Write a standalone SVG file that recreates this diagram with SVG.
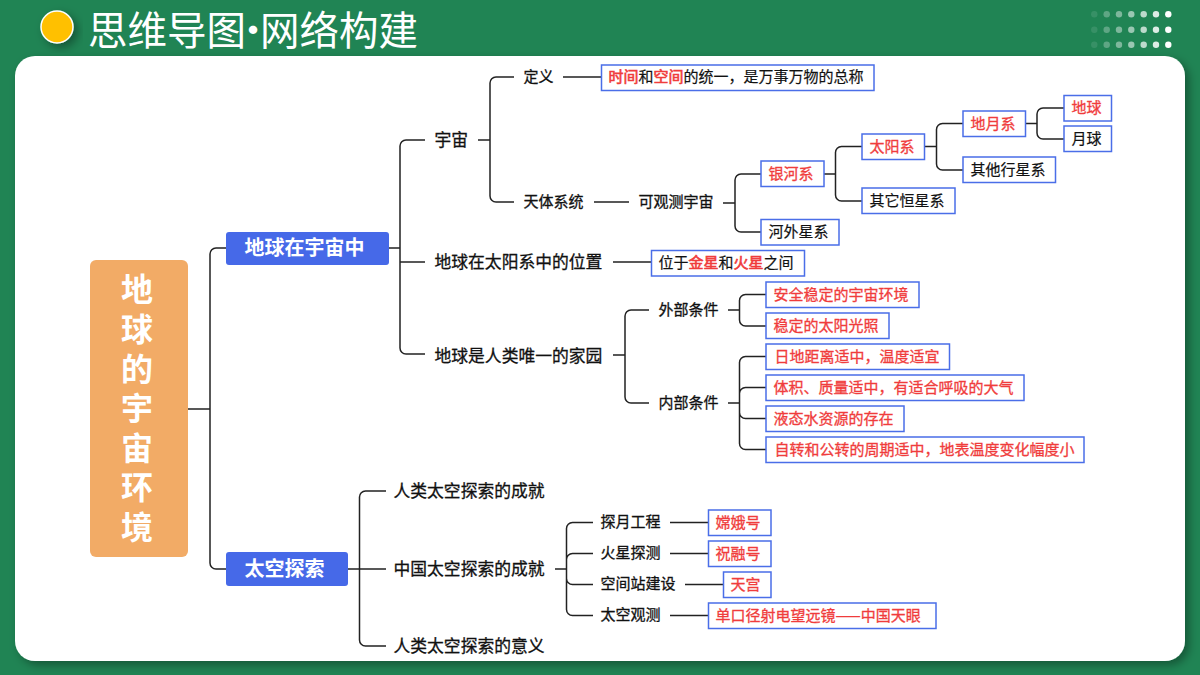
<svg xmlns="http://www.w3.org/2000/svg" width="1200" height="675" viewBox="0 0 1200 675">
<style>
text{font-family:"Noto Sans CJK SC","Liberation Sans",sans-serif}
.l{fill:none;stroke:#222;stroke-width:1.5}
.b{fill:#fff;stroke:#4a6ee8;stroke-width:1.5}
.t{font-size:15px;fill:#111;stroke:#111;stroke-width:.2}
.r{font-size:15px;fill:#f03c3c;stroke:#f03c3c;stroke-width:.3}
.rb{fill:#f03c3c;stroke:#f03c3c;stroke-width:.6}
.m{font-size:16.8px;fill:#111;stroke:#111;stroke-width:.3}
.s{font-size:15px;fill:#111;stroke:#111;stroke-width:.3}
.blue{fill:#4669e8}
.w{font-size:20px;fill:#fff;font-weight:700}
.root{font-size:32px;fill:#fff;font-weight:700;text-anchor:middle}
.d{fill:#fff}
</style>
<defs>
<filter id="sh" x="-20%" y="-20%" width="150%" height="150%"><feDropShadow dx="4" dy="4" stdDeviation="5" flood-color="#000" flood-opacity=".35"/></filter>
</defs>
<rect width="1200" height="675" fill="#208454"/>
<rect id="panel" x="15" y="56" width="1170" height="605" rx="20" fill="#fff" filter="url(#sh)"/>
<circle id="dot" cx="57" cy="27" r="16" fill="#ffc000" stroke="#fff" stroke-width="1.5" filter="url(#sh)"/>
<g id="title" font-size="39.5" fill="#fff"><text x="88" y="45">思维导图</text><text x="253" y="45" text-anchor="middle" font-family="Liberation Sans">·</text><text x="260" y="45">网络构建</text></g>
<g id="dots">
<g opacity=".1"><circle class="d" cx="1094.3" cy="14.3" r="3.2"/><circle class="d" cx="1094.3" cy="29.7" r="3.2"/><circle class="d" cx="1094.3" cy="44.7" r="3.2"/></g>
<g opacity=".28"><circle class="d" cx="1106.7" cy="14.3" r="3.2"/><circle class="d" cx="1106.7" cy="29.7" r="3.2"/><circle class="d" cx="1106.7" cy="44.7" r="3.2"/></g>
<g opacity=".42"><circle class="d" cx="1119" cy="14.3" r="3.2"/><circle class="d" cx="1119" cy="29.7" r="3.2"/><circle class="d" cx="1119" cy="44.7" r="3.2"/></g>
<g opacity=".55"><circle class="d" cx="1131.3" cy="14.3" r="3.2"/><circle class="d" cx="1131.3" cy="29.7" r="3.2"/><circle class="d" cx="1131.3" cy="44.7" r="3.2"/></g>
<g opacity=".7"><circle class="d" cx="1143.7" cy="14.3" r="3.2"/><circle class="d" cx="1143.7" cy="29.7" r="3.2"/><circle class="d" cx="1143.7" cy="44.7" r="3.2"/></g>
<g opacity=".85"><circle class="d" cx="1156" cy="14.3" r="3.2"/><circle class="d" cx="1156" cy="29.7" r="3.2"/><circle class="d" cx="1156" cy="44.7" r="3.2"/></g>
<g><circle class="d" cx="1168.3" cy="14.3" r="3.2"/><circle class="d" cx="1168.3" cy="29.7" r="3.2"/><circle class="d" cx="1168.3" cy="44.7" r="3.2"/></g>
</g>
<g id="connectors">
<path class="l" d="M188 409H210M226 248H216a6 6 0 0 0-6 6V563a6 6 0 0 0 6 6H226"/>
<path class="l" d="M389 248H400M425 140H406a6 6 0 0 0-6 6V348a6 6 0 0 0 6 6H425M400 262H425"/>
<path class="l" d="M478 140H490M514 77H496a6 6 0 0 0-6 6V196a6 6 0 0 0 6 6H514M563 77H601M594 202H629"/>
<path class="l" d="M723 203H735M761 174H741a6 6 0 0 0-6 6V226a6 6 0 0 0 6 6H761"/>
<path class="l" d="M824 174H835.500M862 146.500H841.500a6 6 0 0 0-6 6V195a6 6 0 0 0 6 6H862"/>
<path class="l" d="M925 146.500H936.500M963 123.500H942.500a6 6 0 0 0-6 6V164a6 6 0 0 0 6 6H963"/>
<path class="l" d="M1026 123.500H1037M1064 108H1043a6 6 0 0 0-6 6V133a6 6 0 0 0 6 6H1064"/>
<path class="l" d="M613 262H651M613 355H625M649 310H631a6 6 0 0 0-6 6V397a6 6 0 0 0 6 6H649"/>
<path class="l" d="M728 310H739.500M766 294.500H745.500a6 6 0 0 0-6 6V320a6 6 0 0 0 6 6H766"/>
<path class="l" d="M728 403H739.500M766 356.500H745.500a6 6 0 0 0-6 6V443.500a6 6 0 0 0 6 6H766M766 387.500H745.500a6 6 0 0 0-6 6M766 418.500H745.500a6 6 0 0 1-6-6"/>
<path class="l" d="M348 569H386M386 491H365.500a6 6 0 0 0-6 6V640a6 6 0 0 0 6 6H386"/>
<path class="l" d="M555 569H566.500M593 522.500H572.500a6 6 0 0 0-6 6V609.500a6 6 0 0 0 6 6H593M593 553.500H572.500a6 6 0 0 0-6 6M593 584.500H572.500a6 6 0 0 1-6-6"/>
<path class="l" d="M670 522.500H708M670 553.500H708M685 584.500H723M670 615.500H708"/>
</g>
<g id="root"><rect x="90" y="260" width="98" height="297" rx="6" fill="#f2ab66"/>
<text class="root" x="137" y="301">地</text><text class="root" x="137" y="341">球</text><text class="root" x="137" y="381">的</text><text class="root" x="137" y="420">宇</text><text class="root" x="137" y="460">宙</text><text class="root" x="137" y="499">环</text><text class="root" x="137" y="539">境</text></g>
<g id="n-earth"><rect class="blue" x="226" y="232" width="163" height="33" rx="3"/><text class="w" x="244.500" y="255">地球在宇宙中</text></g>
<g id="n-space"><rect class="blue" x="226" y="552" width="122" height="34" rx="3"/><text class="w" x="244.500" y="575.500">太空探索</text></g>
<g id="n-yuzhou"><text class="m" x="434.500" y="146">宇宙</text></g>
<g id="n-def"><text class="s" x="523.500" y="82">定义</text></g>
<g id="n-defbox"><rect class="b" x="601.500" y="65" width="272.500" height="25.500"/><text class="t" x="608.500" y="82"><tspan class="rb">时间</tspan>和<tspan class="rb">空间</tspan>的统一，是万事万物的总称</text></g>
<g id="n-tianti"><text class="s" x="523.500" y="207">天体系统</text></g>
<g id="n-obs"><text class="s" x="638.500" y="207">可观测宇宙</text></g>
<g id="n-yinhe"><rect class="b" x="761" y="161" width="63" height="25.500"/><text class="r" x="768.500" y="179">银河系</text></g>
<g id="n-hewai"><rect class="b" x="761" y="219.500" width="78" height="25.500"/><text class="t" x="768.500" y="237">河外星系</text></g>
<g id="n-taiyang"><rect class="b" x="862" y="134" width="62.500" height="25.500"/><text class="r" x="869.500" y="152">太阳系</text></g>
<g id="n-qita"><rect class="b" x="862" y="188" width="93" height="25.500"/><text class="t" x="869.500" y="206">其它恒星系</text></g>
<g id="n-diyue"><rect class="b" x="963" y="111" width="62.500" height="25.500"/><text class="r" x="970.500" y="129">地月系</text></g>
<g id="n-other"><rect class="b" x="963" y="157" width="92.500" height="25.500"/><text class="t" x="970.500" y="175">其他行星系</text></g>
<g id="n-diqiu"><rect class="b" x="1064" y="95.500" width="47.500" height="25.500"/><text class="r" x="1071.500" y="113">地球</text></g>
<g id="n-yueqiu"><rect class="b" x="1064" y="126" width="47.500" height="25.500"/><text class="t" x="1071.500" y="144">月球</text></g>
<g id="n-pos"><text class="m" x="434.500" y="268">地球在太阳系中的位置</text></g>
<g id="n-posbox"><rect class="b" x="651.500" y="250.500" width="153" height="25.500"/><text class="t" x="658.500" y="268">位于<tspan class="rb">金星</tspan>和<tspan class="rb">火星</tspan>之间</text></g>
<g id="n-home"><text class="m" x="434.500" y="361.500">地球是人类唯一的家园</text></g>
<g id="n-ext"><text class="s" x="658.500" y="315">外部条件</text></g>
<g id="n-int"><text class="s" x="658.500" y="408">内部条件</text></g>
<g id="n-e1"><rect class="b" x="766" y="282" width="153" height="25.500"/><text class="r" x="773.500" y="300">安全稳定的宇宙环境</text></g>
<g id="n-e2"><rect class="b" x="766" y="313" width="123" height="25.500"/><text class="r" x="773.500" y="331">稳定的太阳光照</text></g>
<g id="n-i1"><rect class="b" x="766" y="344" width="183.500" height="25.500"/><text class="r" x="774.500" y="362">日地距离适中，温度适宜</text></g>
<g id="n-i2"><rect class="b" x="766" y="375" width="258" height="25.500"/><text class="r" x="773.500" y="393">体积、质量适中，有适合呼吸的大气</text></g>
<g id="n-i3"><rect class="b" x="766" y="406" width="138" height="25.500"/><text class="r" x="773.500" y="424">液态水资源的存在</text></g>
<g id="n-i4"><rect class="b" x="766" y="437" width="318" height="25.500"/><text class="r" x="774.500" y="455">自转和公转的周期适中，地表温度变化幅度小</text></g>
<g id="n-ach"><text class="m" x="393.500" y="497">人类太空探索的成就</text></g>
<g id="n-cn"><text class="m" x="393.500" y="574.500">中国太空探索的成就</text></g>
<g id="n-mean"><text class="m" x="393.500" y="652">人类太空探索的意义</text></g>
<g id="n-moon"><text class="s" x="600.500" y="527">探月工程</text></g>
<g id="n-mars"><text class="s" x="600.500" y="558">火星探测</text></g>
<g id="n-st"><text class="s" x="600.500" y="589">空间站建设</text></g>
<g id="n-ob"><text class="s" x="600.500" y="620">太空观测</text></g>
<g id="n-ce"><rect class="b" x="708.500" y="510" width="62.500" height="25.500"/><text class="r" x="715.500" y="527.500">嫦娥号</text></g>
<g id="n-zr"><rect class="b" x="708.500" y="541" width="62.500" height="25.500"/><text class="r" x="715.500" y="558.500">祝融号</text></g>
<g id="n-tg"><rect class="b" x="723.500" y="572" width="47.500" height="25.500"/><text class="r" x="730.500" y="589.500">天宫</text></g>
<g id="n-fast"><rect class="b" x="708.500" y="603" width="227.500" height="25.500"/><text class="r" x="715.500" y="620.500">单口径射电望远镜——中国天眼</text></g>
</svg>
